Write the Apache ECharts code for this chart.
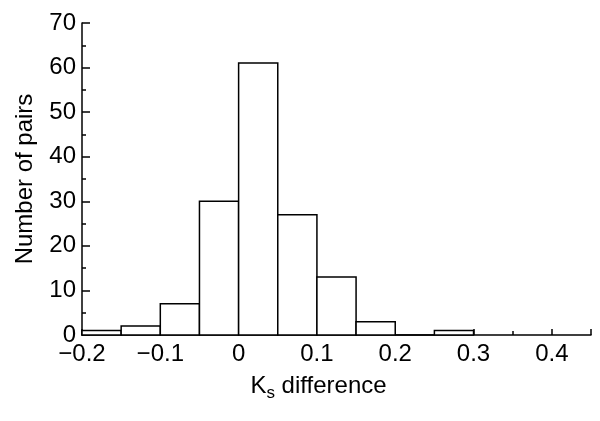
<!DOCTYPE html>
<html>
<head>
<meta charset="utf-8">
<script src="https://cdn.jsdelivr.net/npm/echarts@6/dist/echarts.min.js"></script>
<style>
  html, body { margin: 0; padding: 0; background: #fff; }
  #chart { width: 600px; height: 421px; }
</style>
</head>
<body>
<div id="chart"></div>
<script>
// 直方图数据：每个区间的起点和个数
var binStarts = [-0.2, -0.15, -0.1, -0.05, 0, 0.05, 0.1, 0.15, 0.2, 0.25];
var counts = [1, 2, 7, 30, 61, 27, 13, 3, 0, 1];
var binWidth = 0.05;

var myChart = echarts.init(document.getElementById('chart'));

var data = binStarts.map(function (s, i) {
    return [s, s + binWidth, counts[i]];
});

var font = 'Liberation Sans, Arial, sans-serif';

option = {
    animation: false,
    grid: {
        left: 82,
        right: 9,
        top: 23,
        bottom: 86
    },
    xAxis: {
        type: 'value',
        min: -0.2,
        max: 0.45,
        interval: 0.1,
        splitLine: { show: false },
        axisLine: { onZero: false, lineStyle: { color: '#000', width: 1.5 } },
        axisTick: { inside: true, length: 6, lineStyle: { color: '#000', width: 1.5 } },
        minorTick: { show: true, splitNumber: 2, length: 4, lineStyle: { color: '#000', width: 1.5 } },
        axisLabel: {
            showMaxLabel: false,
            color: '#000',
            fontSize: 24,
            fontFamily: font,
            margin: 7,
            formatter: function (v) {
                var t = +v.toFixed(2);
                return String(t).replace('-', '\u2212');
            }
        },
        name: '{k|K}{s|s}{k| difference}',
        nameLocation: 'middle',
        nameGap: 36,
        nameTextStyle: {
            padding: [0, 36, 0, 0],
            rich: {
                k: { fontSize: 24, fontFamily: font, color: '#000' },
                s: { fontSize: 17, fontFamily: font, color: '#000', padding: [14, 0, 0, 0] }
            }
        }
    },
    yAxis: {
        type: 'value',
        min: 0,
        max: 70,
        interval: 10,
        splitLine: { show: false },
        axisLine: { show: true, onZero: false, lineStyle: { color: '#000', width: 1.5 } },
        axisTick: { show: true, inside: true, length: 8, lineStyle: { color: '#000', width: 1.5 } },
        minorTick: { show: true, splitNumber: 2, length: 4, lineStyle: { color: '#000', width: 1.5 } },
        axisLabel: { color: '#000', fontSize: 24, fontFamily: font, margin: 6 },
        name: 'Number of pairs',
        nameLocation: 'middle',
        nameGap: 45,
        nameTextStyle: { fontSize: 24, fontFamily: font, color: '#000' }
    },
    series: [{
        type: 'custom',
        renderItem: function (params, api) {
            var p0 = api.coord([api.value(0), 0]);
            var p1 = api.coord([api.value(1), api.value(2)]);
            return {
                type: 'rect',
                shape: { x: p0[0], y: p1[1], width: p1[0] - p0[0], height: p0[1] - p1[1] },
                style: { fill: '#fff', stroke: '#000', lineWidth: 1.5 }
            };
        },
        encode: { x: [0, 1], y: 2 },
        data: data
    }]
};

myChart.setOption(option);
</script>
</body>
</html>
